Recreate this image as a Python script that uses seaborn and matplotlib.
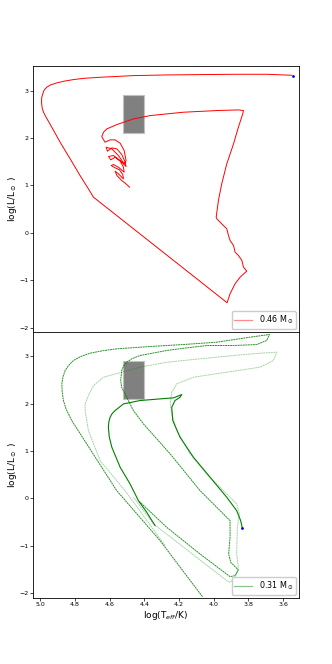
import numpy as np
import pandas as pd
import matplotlib
matplotlib.use("Agg")
import matplotlib.pyplot as plt
from matplotlib.patches import Rectangle
from matplotlib.lines import Line2D
import seaborn as sns

# 0.46 Msun track (logTeff, logL)
red_T = [3.550, 3.694, 3.886, 4.078, 4.270, 4.462, 4.654, 4.750, 4.808, 4.860,
         4.904, 4.940, 4.962, 4.977, 4.985, 4.991, 4.992, 4.990, 4.987, 4.980,
         4.971, 4.933, 4.885, 4.827, 4.770, 4.722, 4.693,
         3.923, 3.906, 3.877, 3.848, 3.810, 3.829, 3.838, 3.858, 3.877, 3.886,
         3.906, 3.915, 3.925, 3.954, 3.982, 3.986, 3.973, 3.954, 3.925, 3.886,
         3.858, 3.833, 3.829, 3.858, 3.982, 4.174, 4.366, 4.462, 4.558, 4.616,
         4.635, 4.645,
         4.641, 4.626, 4.597, 4.568, 4.539, 4.516, 4.505, 4.516, 4.549, 4.587,
         4.620, 4.612, 4.587, 4.558, 4.530, 4.510, 4.505, 4.539, 4.578, 4.606,
         4.593, 4.568, 4.539, 4.520, 4.516, 4.549, 4.578, 4.591, 4.568, 4.543,
         4.524, 4.520, 4.549, 4.568, 4.558, 4.530, 4.501, 4.485]
red_L = [3.323, 3.344, 3.344, 3.337, 3.330, 3.316, 3.281, 3.258, 3.232, 3.200,
         3.162, 3.120, 3.070, 3.010, 2.930, 2.850, 2.754, 2.680, 2.614, 2.540,
         2.473, 2.228, 1.912, 1.560, 1.209, 0.928, 0.753,
         -1.473, -1.284, -1.073, -0.933, -0.806, -0.722, -0.581, -0.476, -0.406, -0.265,
         -0.160, -0.055, 0.086, 0.191, 0.296, 0.331, 0.683, 1.034, 1.455, 1.876,
         2.228, 2.508, 2.579, 2.593, 2.579, 2.544, 2.473, 2.403, 2.284, 2.192,
         2.122, 2.031,
         2.003, 1.912, 1.961, 1.961, 1.890, 1.736, 1.525, 1.455, 1.631, 1.771,
         1.806, 1.722, 1.792, 1.771, 1.652, 1.490, 1.399, 1.525, 1.631, 1.610,
         1.539, 1.596, 1.511, 1.385, 1.279, 1.385, 1.441, 1.420, 1.371, 1.329,
         1.230, 1.139, 1.244, 1.301, 1.209, 1.104, 1.020, 0.963]
red_end = (3.545, 3.316)

# 0.31 Msun tracks
dash_T = [4.065, 4.309, 4.559, 4.818, 4.850, 4.866, 4.873, 4.875, 4.868, 4.856,
          4.835, 4.808, 4.765, 4.712, 4.640, 4.559,
          4.367, 4.175, 3.983, 3.791, 3.679, 3.695, 3.752, 3.887, 4.040, 4.155,
          4.271, 4.424, 4.470, 4.501, 4.520, 4.530, 4.536, 4.530, 4.511, 4.463, 4.405, 4.251, 4.079,
          3.906, 3.906, 3.914, 3.902, 3.858, 3.877, 3.906, 4.079, 4.271, 4.434]
dash_L = [-2.07, -0.889, 0.166, 1.643, 1.880, 2.065, 2.250, 2.416, 2.570, 2.698,
          2.810, 2.909, 2.995, 3.063, 3.115, 3.155,
          3.204, 3.246, 3.295, 3.401, 3.457, 3.331, 3.246, 3.225, 3.225, 3.176,
          3.120, 3.014, 2.950, 2.873, 2.790, 2.698, 2.487, 2.340, 2.205, 1.854, 1.572, 0.940, 0.166,
          -0.467, -0.819, -1.170, -1.346, -1.508, -1.627, -1.648, -1.170, -0.608, -0.045]

solid_T = [4.338, 4.386, 4.434, 4.482, 4.539, 4.587, 4.602, 4.607, 4.604, 4.597, 4.585, 4.568, 4.520,
           4.424, 4.309, 4.232, 4.184, 4.194, 4.223, 4.242, 4.236, 4.194, 4.117,
           4.021, 3.925, 3.868, 3.845, 3.835]
solid_L = [-0.572, -0.291, -0.045, 0.307, 0.658, 1.080, 1.300, 1.502, 1.620, 1.713, 1.790, 1.854, 1.994,
           2.065, 2.100, 2.121, 2.191, 2.135, 2.065, 1.924, 1.643, 1.291, 0.869,
           0.447, 0.025, -0.256, -0.467, -0.629]

light_T = [4.280, 4.511, 4.655, 4.722, 4.741, 4.741, 4.722, 4.693, 4.635, 4.530,
           4.424, 4.271, 4.079, 3.887, 3.733, 3.637, 3.656, 3.733, 3.925, 4.117,
           4.213, 4.242, 4.251, 4.242, 4.213, 4.136, 4.040, 3.925, 3.868, 3.852,
           3.864, 3.868, 3.858, 3.877, 3.906, 3.925, 4.347, 4.463]
light_L = [-0.994, 0.166, 0.799, 1.432, 1.854, 1.994, 2.170, 2.381, 2.557, 2.662,
           2.768, 2.873, 2.944, 3.014, 3.063, 3.084, 2.909, 2.768, 2.662, 2.557,
           2.416, 2.241, 1.994, 1.783, 1.432, 0.940, 0.518, 0.096, -0.115, -0.326,
           -0.608, -1.170, -1.451, -1.662, -1.768, -1.733, -0.537, 0.025]
green_end = (3.835, -0.629)

# instability strip box
box_T = (4.40, 4.52)
box_L = (2.1, 2.9)

xticks = [5.0, 4.8, 4.6, 4.4, 4.2, 4.0, 3.8, 3.6]
yticks = [-2, -1, 0, 1, 2, 3]

df_red = pd.DataFrame({"logT": red_T, "logL": red_L})
df_dash = pd.DataFrame({"logT": dash_T, "logL": dash_L})
df_solid = pd.DataFrame({"logT": solid_T, "logL": solid_L})
df_light = pd.DataFrame({"logT": light_T, "logL": light_L})

fig, axes = plt.subplots(2, 1, figsize=(3.32, 6.64), dpi=100, sharex=True)
plt.subplots_adjust(left=0.1, right=0.9, top=0.9, bottom=0.1, hspace=0)

ax = axes[0]
sns.lineplot(data=df_red, x="logT", y="logL", sort=False, estimator=None,
             color="red", lw=0.7, ax=ax)
ax.plot(*red_end, "o", color="blue", ms=1.0)

ax = axes[1]
sns.lineplot(data=df_light, x="logT", y="logL", sort=False, estimator=None,
             color="green", alpha=0.35, lw=0.7, ls=(0, (2, 0.6)), ax=ax)
sns.lineplot(data=df_dash, x="logT", y="logL", sort=False, estimator=None,
             color="green", alpha=0.85, lw=0.7, ls=(0, (2, 0.6)), ax=ax)
sns.lineplot(data=df_solid, x="logT", y="logL", sort=False, estimator=None,
             color="green", lw=0.8, ax=ax)
ax.plot(*green_end, "o", color="blue", ms=1.0)

labels = ["0.46 M$_\\odot$", "0.31 M$_\\odot$"]
colors = ["red", "green"]
for ax, lab, col in zip(axes, labels, colors):
    ax.add_patch(Rectangle((box_T[0], box_L[0]), box_T[1] - box_T[0], box_L[1] - box_L[0],
                           facecolor="grey", edgecolor="silver", lw=0.8, zorder=0.5))
    ax.set_xlim(5.04, 3.51)
    ax.set_ylim(-2.09, 3.51)
    ax.set_yticks(yticks)
    ax.set_xticks(xticks)
    ax.set_ylabel("log(L/L$_\\odot$ )", fontsize=6.5)
    ax.yaxis.set_label_coords(-0.055, 0.5)
    ax.set_xlabel("")
    ax.tick_params(labelsize=4.5, length=2, width=0.5, pad=1.5)
    for s in ax.spines.values():
        s.set_linewidth(0.6)
    handle = Line2D([0], [0], color=col, alpha=0.45, lw=0.9)
    ax.legend([handle], [lab], loc="lower right", fontsize=5.8, handlelength=2.2,
              borderpad=0.35, borderaxespad=0.35, framealpha=1)

axes[1].set_xticklabels([f"{t:.1f}" for t in xticks])
axes[1].set_xlabel("log(T$_{eff}$/K)", fontsize=6.5, labelpad=1)

fig.savefig("out.png", dpi=100)
